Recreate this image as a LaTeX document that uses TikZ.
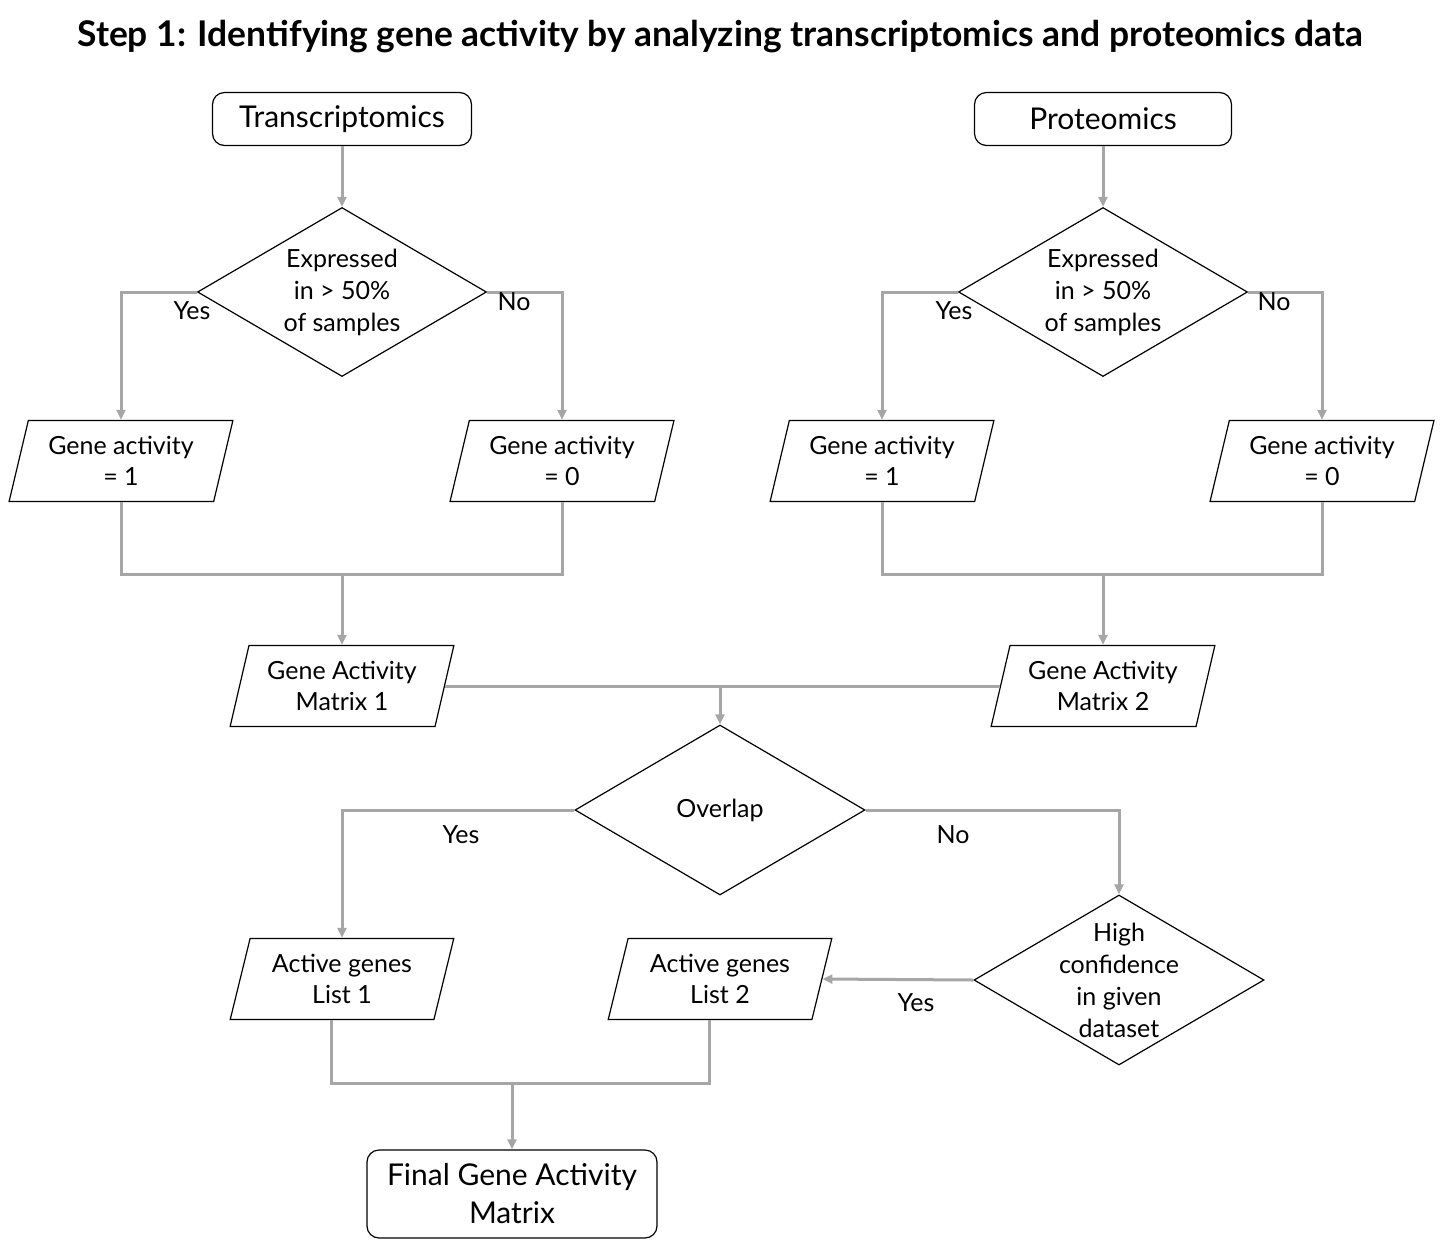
\documentclass[tikz,border=0pt]{standalone}
\usepackage{fontspec}
\setmainfont{Lato}
\usetikzlibrary{shapes.geometric,arrows.meta}
\definecolor{linegray}{HTML}{A6A6A6}
\tikzset{
  startstop/.style={draw, rounded corners=12pt, line width=1.2pt, align=center,
    inner sep=0pt, font=\fontsize{30}{38}\selectfont},
  decision/.style={diamond, draw, line width=1.2pt, align=center, inner sep=-60pt,
    aspect=1.7, minimum width=289pt, minimum height=169pt, font=\fontsize{25}{32}\selectfont},
  iobox/.style={trapezium, trapezium left angle=73, trapezium right angle=107,
    trapezium stretches=true, draw, line width=1.2pt, align=center, inner sep=0pt,
    minimum width=224pt, minimum height=81pt, font=\fontsize{25}{31}\selectfont},
  flow/.style={draw=linegray, line width=3pt, -{Triangle[length=10pt,width=9pt]}},
  link/.style={draw=linegray, line width=3pt},
  lbl/.style={font=\fontsize{25}{30}\selectfont}
}
\begin{document}
\begin{tikzpicture}[x=1pt,y=-1pt]
\useasboundingbox (0,0) rectangle (1440,1248);
\node[font=\bfseries\fontsize{35.4}{40}\selectfont] (title) at (720,37)
  {Step 1: Identifying gene activity by analyzing transcriptomics and proteomics data};

% transcriptomics branch
\node[startstop, minimum width=259pt, minimum height=53pt] (trans) at (342,119) {Transcriptomics};
\node[decision] (dec1) at (342,292) {Expressed\\in > 50\%\\of samples};
\node[iobox] (act1) at (121,461) {Gene activity\\= 1};
\node[iobox] (inact1) at (562,461) {Gene activity\\= 0};
\node[iobox] (mat1) at (342,686) {Gene Activity\\Matrix 1};

% proteomics branch
\node[startstop, minimum width=257pt, minimum height=53pt] (prot) at (1103,119) {Proteomics};
\node[decision] (dec2) at (1103,292) {Expressed\\in > 50\%\\of samples};
\node[iobox] (act2) at (882,461) {Gene activity\\= 1};
\node[iobox] (inact2) at (1322,461) {Gene activity\\= 0};
\node[iobox] (mat2) at (1103,686) {Gene Activity\\Matrix 2};

% combining
\node[decision, minimum width=290pt, minimum height=170pt] (overlap) at (720,810) {Overlap};
\node[decision, minimum width=290pt, minimum height=170pt] (conf) at (1119,980)
  {High\\confidence\\in given\\dataset};
\node[iobox] (list1) at (342,979) {Active genes\\List 1};
\node[iobox] (list2) at (720,979) {Active genes\\List 2};
\node[startstop, minimum width=290pt, minimum height=88pt] (final) at (512,1194)
  {Final Gene Activity\\Matrix};

\coordinate (j1) at (342,574);
\coordinate (j2) at (1103,574);
\coordinate (j3) at (720,686);
\coordinate (j4) at (512,1083);

\draw[flow] (trans) -- (dec1);
\draw[flow] (dec1.west) -| (act1.center |- act1.north);
\draw[flow] (dec1.east) -| (inact1.center |- inact1.north);
\draw[link] (act1.center |- act1.south) |- (j1) -| (inact1.center |- inact1.south);
\draw[flow] (j1) -- (mat1.center |- mat1.north);

\draw[flow] (prot) -- (dec2);
\draw[flow] (dec2.west) -| (act2.center |- act2.north);
\draw[flow] (dec2.east) -| (inact2.center |- inact2.north);
\draw[link] (act2.center |- act2.south) |- (j2) -| (inact2.center |- inact2.south);
\draw[flow] (j2) -- (mat2.center |- mat2.north);

\draw[link] (mat1.east) -- (mat2.west);
\draw[flow] (j3) -- (overlap.north);
\draw[flow] (overlap.west) -| (list1.center |- list1.north);
\draw[flow] (overlap.east) -| (conf.north);
\draw[flow] (conf.west) -- (list2.east);
\draw[link] (list1.bottom side) |- (j4) -| (list2.bottom side);
\draw[flow] (j4) -- (final);

% labels
\node[lbl] (yes1) at (192,311) {Yes};
\node[lbl] (no1) at (514,302) {No};
\node[lbl] (yes2) at (954,311) {Yes};
\node[lbl] (no2) at (1274,302) {No};
\node[lbl] (yes3) at (461,835) {Yes};
\node[lbl] (no3) at (953,835) {No};
\node[lbl] (yes4) at (916,1003) {Yes};
\end{tikzpicture}
\end{document}
